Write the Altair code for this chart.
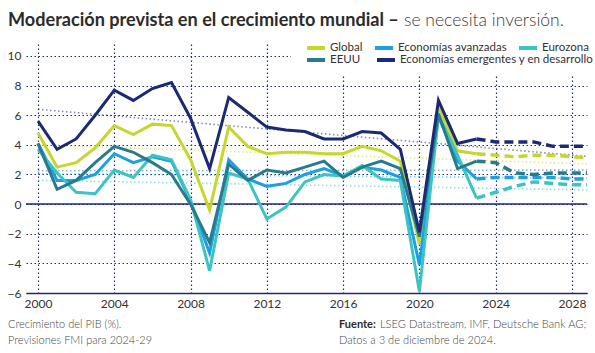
import altair as alt
import pandas as pd

# ---------------- data ----------------
years_hist = list(range(2000, 2024))
years_fc = list(range(2023, 2030))
trend_years = [2000, 2029]

series_names = ["Global", "Economías avanzadas", "Eurozona", "EEUU",
                "Economías emergentes y en desarrollo"]
series_colors = ["#c5d72f", "#1ba1e2", "#3cc3c3", "#2a7a8e", "#1b2a72"]

global_hist = [4.8, 2.5, 2.8, 3.8, 5.3, 4.7, 5.4, 5.3, 3.0, -0.4, 5.2, 3.9,
               3.4, 3.5, 3.5, 3.4, 3.4, 3.9, 3.6, 2.9, -2.7, 6.6, 3.6, 3.4]
adv_hist = [4.1, 1.6, 1.6, 2.0, 3.4, 2.8, 3.2, 2.9, 0.2, -3.3, 3.0, 1.7,
            1.2, 1.4, 2.0, 2.4, 1.9, 2.5, 2.3, 1.8, -4.1, 5.9, 2.9, 1.7]
eu_hist = [3.7, 2.1, 0.8, 0.7, 2.3, 1.8, 3.3, 3.0, 0.3, -4.5, 2.1, 1.7,
           -1.0, -0.2, 1.5, 2.0, 1.9, 2.6, 1.7, 1.6, -5.9, 6.0, 3.3, 0.4]
us_hist = [4.1, 1.0, 1.6, 2.8, 3.9, 3.5, 2.8, 2.0, 0.0, -2.6, 2.7, 1.6,
           2.3, 2.1, 2.5, 2.9, 1.8, 2.5, 2.9, 2.4, -2.2, 6.1, 2.4, 2.9]
em_hist = [5.6, 3.7, 4.4, 6.0, 7.7, 7.0, 7.8, 8.2, 5.8, 2.4, 7.2, 6.2,
           5.2, 5.0, 4.9, 4.4, 4.4, 4.9, 4.8, 3.7, -1.9, 7.0, 4.1, 4.4]

global_fc = [3.4, 3.3, 3.2, 3.3, 3.3, 3.2, 3.1]
adv_fc = [1.7, 1.8, 1.8, 1.8, 1.8, 1.7, 1.7]
eu_fc = [0.4, 0.8, 1.2, 1.5, 1.4, 1.3, 1.3]
us_fc = [2.9, 2.8, 2.1, 2.0, 2.1, 2.1, 2.1]
em_fc = [4.4, 4.2, 4.2, 4.2, 3.9, 3.9, 3.9]

global_trend = [4.0, 2.7]
adv_trend = [2.05, 1.75]
eu_trend = [1.6, 0.95]
us_trend = [2.25, 2.3]
em_trend = [6.4, 3.2]

x_ticks = list(range(2000, 2029, 4))
y_ticks = list(range(-6, 11, 2))

title_bold = "Moderación prevista en el crecimiento mundial –"
title_light = "se necesita inversión."
note_lines = ["Crecimiento del PIB (%).", "Previsiones FMI para 2024-29"]
source_bold = "Fuente:"
source_rest = "LSEG Datastream, IMF, Deutsche Bank AG;"
source_line2 = "Datos a 3 de diciembre de 2024."

# ---------------- tables ----------------
hist_map = dict(zip(series_names, [global_hist, adv_hist, eu_hist, us_hist, em_hist]))
fc_map = dict(zip(series_names, [global_fc, adv_fc, eu_fc, us_fc, em_fc]))
tr_map = dict(zip(series_names, [global_trend, adv_trend, eu_trend, us_trend, em_trend]))


def make_df(mapping, years):
    rows = []
    for name, vals in mapping.items():
        for yr, v in zip(years, vals):
            rows.append({"year": yr, "value": v, "serie": name})
    return pd.DataFrame(rows)


hist_df = make_df(hist_map, years_hist)
fc_df = make_df(fc_map, years_fc)
tr_df = make_df(tr_map, trend_years)
group_a = series_names[:3]
group_b = series_names[3:]

FONT = "Lato"
NAVY = "#1b2a72"
GRID = "#1e2d86"

x_enc = alt.X("year:Q",
              scale=alt.Scale(domain=[1999.37, 2028.79], nice=False, zero=False),
              axis=alt.Axis(values=x_ticks, format="d", title=None))
y_enc = alt.Y("value:Q",
              scale=alt.Scale(domain=[-6, 10.81], nice=False, zero=False),
              axis=alt.Axis(values=y_ticks, title=None))


def color_enc(domain, legend):
    cols = [series_colors[series_names.index(n)] for n in domain]
    return alt.Color("serie:N", scale=alt.Scale(domain=domain, range=cols),
                     legend=legend, sort=domain)


def legend_cfg(ly, colpad):
    return alt.Legend(orient="none", legendX=279, legendY=ly, direction="horizontal",
                      title=None, symbolType="stroke", symbolSize=324,
                      symbolStrokeWidth=4, labelFontSize=11.5, labelFont=FONT,
                      labelColor="#333333", columnPadding=colpad, labelOffset=3,
                      labelLimit=400, padding=0)


W, H = 561, 249

bg = alt.Chart(pd.DataFrame({"k": [0]})).mark_rect(color="white").encode(
    x=alt.value(265), x2=alt.value(W), y=alt.value(-10), y2=alt.value(32))

trend = alt.Chart(tr_df).mark_line(strokeDash=[1.5, 2.5], strokeWidth=1.6,
                                   opacity=0.55, clip=True).encode(
    x=x_enc, y=y_enc, color=color_enc(series_names, None), detail="serie:N")

forecast = alt.Chart(fc_df).mark_line(strokeDash=[9, 5], strokeWidth=3.5,
                                      clip=True).encode(
    x=x_enc, y=y_enc, color=color_enc(series_names, None), detail="serie:N")

zero = alt.Chart(pd.DataFrame({"value": [0]})).mark_rule(color=NAVY, strokeWidth=1.5).encode(
    y=y_enc)

hist_a = alt.Chart(hist_df[hist_df.serie.isin(group_a)]).mark_line(
    strokeWidth=3, clip=True).encode(
    x=x_enc, y=y_enc, color=color_enc(group_a, legend_cfg(-7, 4)))

hist_b = alt.Chart(hist_df[hist_df.serie.isin(group_b)]).mark_line(
    strokeWidth=3, clip=True).encode(
    x=x_enc, y=y_enc, color=color_enc(group_b, legend_cfg(5, 8)))

one = pd.DataFrame({"k": [0]})


def txt(text, x, y, size, weight, color):
    return alt.Chart(one).mark_text(text=text, align="left", baseline="alphabetic",
                                    font=FONT, fontSize=size, fontWeight=weight,
                                    color=color).encode(
        x=alt.value(x), y=alt.value(y))


t1 = txt(title_bold, 8 - 26, 26 - 44, 18.1, "bold", "#2b2b2b")
t2 = txt(title_light, 404 - 26, 26 - 44, 17.5, 300, "#3a3a3a")
n1 = txt(note_lines[0], 8 - 26, 328 - 44, 11, 300, "#444444")
n2 = txt(note_lines[1], 8 - 26, 344 - 44, 11, 300, "#444444")
s1 = txt(source_bold, 339 - 26, 328 - 44, 11, "bold", "#2b2b2b")
s2 = txt(source_rest, 380 - 26, 328 - 44, 11.1, 300, "#444444")
s3 = txt(source_line2, 339 - 26, 344 - 44, 11.1, 300, "#444444")

chart = alt.layer(bg, trend, forecast, zero, hist_a, hist_b,
                  t1, t2, n1, n2, s1, s2, s3).resolve_scale(
    color="independent"
).properties(
    width=W, height=H,
    autosize=alt.AutoSizeParams(type="none"),
    padding={"left": 26, "top": 44, "right": 8, "bottom": 60},
).configure_view(stroke=None).configure_axis(
    labelFont=FONT, labelFontSize=12, labelColor="#333333",
    gridColor=GRID, gridDash=[1.5, 2.5], gridWidth=1.2, gridOpacity=1,
    ticks=False,
).configure_axisX(
    domainColor=NAVY, domainWidth=1.5, labelPadding=5,
).configure_axisY(
    domain=False, labelPadding=5,
)

chart.save("out.html", embed_options={"renderer": "svg", "actions": False})
